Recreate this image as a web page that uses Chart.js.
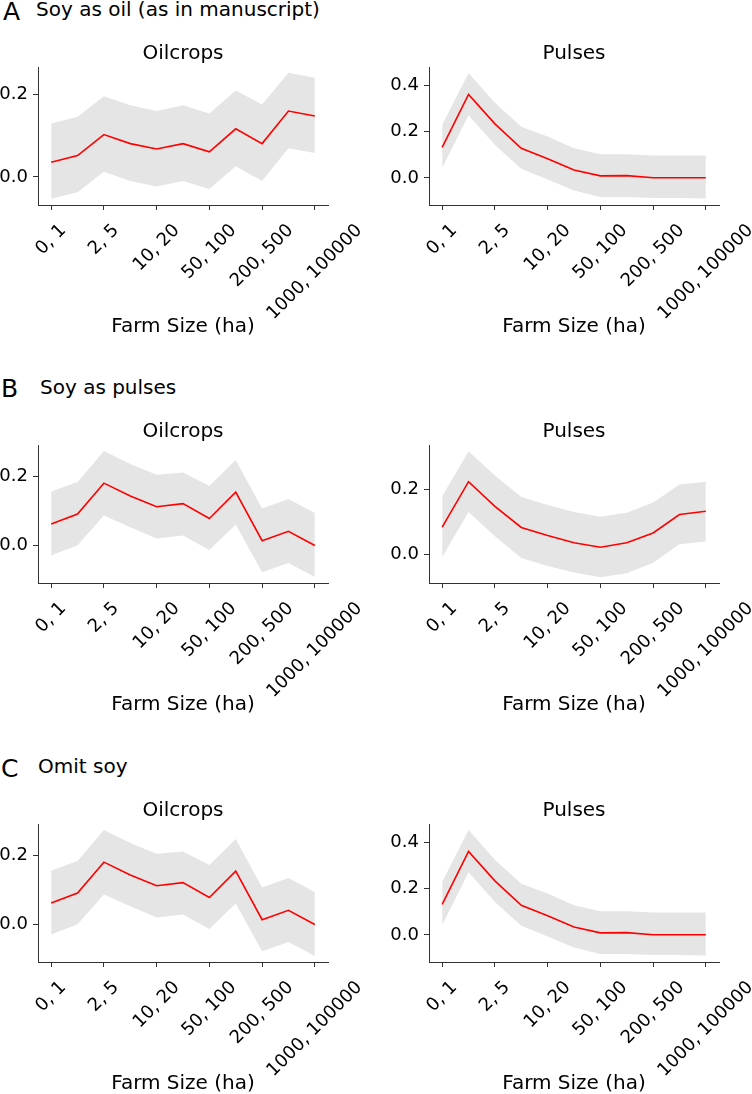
<!DOCTYPE html>
<html><head><meta charset="utf-8">
<script src="https://cdn.jsdelivr.net/npm/chart.js@4/dist/chart.umd.min.js"></script>
<style>
html,body{margin:0;padding:0;background:#fff;width:752px;height:1094px;overflow:hidden;position:relative;font-family:"DejaVu Sans",sans-serif;}
canvas{position:absolute;}
.lbl{position:absolute;font-size:25px;line-height:25px;color:#000;white-space:nowrap}
.hdr{position:absolute;font-size:20px;line-height:20px;color:#000;white-space:nowrap}
</style></head><body>
<div class="lbl" style="left:3px;top:-1px">A</div>
<div class="hdr" style="left:36px;top:-1px">Soy as oil (as in manuscript)</div>
<div class="lbl" style="left:1px;top:376px">B</div>
<div class="hdr" style="left:40px;top:377px">Soy as pulses</div>
<div class="lbl" style="left:1px;top:756px">C</div>
<div class="hdr" style="left:38px;top:756px">Omit soy</div>
<script>
// ---- data ----
const categories = ['0, 1','1, 2','2, 5','5, 10','10, 20','20, 50','50, 100','100, 200','200, 500','500, 1000','1000, 100000'];

const oilA_mean  = [0.036, 0.052, 0.103, 0.081, 0.068, 0.081, 0.061, 0.117, 0.081, 0.160, 0.148];
const oilA_upper = [0.130, 0.146, 0.196, 0.174, 0.160, 0.174, 0.154, 0.210, 0.176, 0.253, 0.241];
const oilA_lower = [-0.053, -0.037, 0.013, -0.010, -0.023, -0.010, -0.029, 0.026, -0.010, 0.070, 0.058];

const pulA_mean  = [0.132, 0.361, 0.234, 0.128, 0.083, 0.034, 0.009, 0.010, 0.001, 0.001, 0.001];
const pulA_upper = [0.229, 0.454, 0.325, 0.222, 0.179, 0.129, 0.103, 0.103, 0.097, 0.097, 0.097];
const pulA_lower = [0.043, 0.271, 0.143, 0.040, -0.007, -0.054, -0.082, -0.082, -0.087, -0.087, -0.089];

const oilB_mean  = [0.062, 0.091, 0.180, 0.143, 0.112, 0.121, 0.078, 0.154, 0.014, 0.041, 0.000];
const oilB_upper = [0.156, 0.183, 0.273, 0.235, 0.204, 0.211, 0.172, 0.247, 0.107, 0.134, 0.094];
const oilB_lower = [-0.029, 0.001, 0.087, 0.053, 0.020, 0.029, -0.013, 0.061, -0.077, -0.050, -0.091];

const pulB_mean  = [0.083, 0.223, 0.147, 0.082, 0.057, 0.035, 0.021, 0.035, 0.065, 0.122, 0.132];
const pulB_upper = [0.178, 0.317, 0.242, 0.176, 0.151, 0.130, 0.115, 0.127, 0.159, 0.214, 0.223];
const pulB_lower = [-0.009, 0.130, 0.055, -0.012, -0.037, -0.057, -0.071, -0.059, -0.027, 0.030, 0.039];

const oilC_mean  = [0.062, 0.091, 0.180, 0.143, 0.112, 0.121, 0.078, 0.154, 0.014, 0.041, 0.000];
const oilC_upper = [0.156, 0.183, 0.273, 0.235, 0.204, 0.211, 0.172, 0.247, 0.107, 0.134, 0.094];
const oilC_lower = [-0.029, 0.001, 0.087, 0.053, 0.020, 0.029, -0.013, 0.061, -0.077, -0.050, -0.091];

const pulC_mean  = [0.132, 0.361, 0.234, 0.128, 0.083, 0.034, 0.009, 0.010, 0.001, 0.001, 0.001];
const pulC_upper = [0.229, 0.454, 0.325, 0.222, 0.179, 0.129, 0.103, 0.103, 0.097, 0.097, 0.097];
const pulC_lower = [0.043, 0.271, 0.143, 0.040, -0.007, -0.054, -0.082, -0.082, -0.087, -0.087, -0.089];

const yTicks_oilA = [0.0, 0.2];
const yTicks_pulA = [0.0, 0.2, 0.4];
const yTicks_oilB = [0.0, 0.2];
const yTicks_pulB = [0.0, 0.2];
const yTicks_oilC = [0.0, 0.2];
const yTicks_pulC = [0.0, 0.2, 0.4];

const yRange_oilA = [-0.068, 0.267];
const yRange_pulA = [-0.117, 0.480];
const yRange_oilB = [-0.108, 0.290];
const yRange_pulB = [-0.089, 0.336];
const yRange_oilC = [-0.108, 0.290];
const yRange_pulC = [-0.117, 0.480];

const subTitles = ['Oilcrops', 'Pulses'];
const xTitle = 'Farm Size (ha)';

// ---- layout ----
const FONT = '"DejaVu Sans", sans-serif';
const AXIS = '#333333';
const BAND = 'rgb(229,229,229)';
const colLeft = [-22, 369];
const rowTop = [42, 420, 799];
const CW = 400, CH = 297;

const panels = [
  {r:0, c:0, title:subTitles[0], mean:oilA_mean, up:oilA_upper, lo:oilA_lower, yt:yTicks_oilA, yr:yRange_oilA},
  {r:0, c:1, title:subTitles[1], mean:pulA_mean, up:pulA_upper, lo:pulA_lower, yt:yTicks_pulA, yr:yRange_pulA},
  {r:1, c:0, title:subTitles[0], mean:oilB_mean, up:oilB_upper, lo:oilB_lower, yt:yTicks_oilB, yr:yRange_oilB},
  {r:1, c:1, title:subTitles[1], mean:pulB_mean, up:pulB_upper, lo:pulB_lower, yt:yTicks_pulB, yr:yRange_pulB},
  {r:2, c:0, title:subTitles[0], mean:oilC_mean, up:oilC_upper, lo:oilC_lower, yt:yTicks_oilC, yr:yRange_oilC},
  {r:2, c:1, title:subTitles[1], mean:pulC_mean, up:pulC_upper, lo:pulC_lower, yt:yTicks_pulC, yr:yRange_pulC},
];

// center rotated x tick labels on their ticks (matplotlib ha='center')
const centerRotatedLabels = {
  id: 'centerRotatedLabels',
  beforeDraw(chart) {
    const sc = chart.scales.x;
    const items = sc.getLabelItems();
    if (items._centered) return;
    const ctx = chart.ctx;
    ctx.save();
    for (const it of items) {
      ctx.font = it.font.string;
      const w = ctx.measureText(String(it.label)).width;
      it.options.translation[0] += w * Math.SQRT1_2 / 2;
    }
    ctx.restore();
    items._centered = true;
  }
};

panels.forEach(p => {
  const cv = document.createElement('canvas');
  cv.width = CW; cv.height = CH;
  cv.style.left = colLeft[p.c] + 'px';
  cv.style.top = rowTop[p.r] + 'px';
  cv.style.width = CW + 'px'; cv.style.height = CH + 'px';
  document.body.appendChild(cv);
  new Chart(cv, {
    type: 'line',
    data: {
      labels: categories,
      datasets: [
        {data: p.mean, borderColor: '#ff0000', borderWidth: 1.6, pointRadius: 0, fill: false, tension: 0},
        {data: p.up, borderWidth: 0, borderColor: 'rgba(0,0,0,0)', backgroundColor: BAND, pointRadius: 0, fill: '+1', tension: 0},
        {data: p.lo, borderWidth: 0, borderColor: 'rgba(0,0,0,0)', backgroundColor: BAND, pointRadius: 0, fill: false, tension: 0}
      ]
    },
    options: {
      responsive: false,
      animation: false,
      devicePixelRatio: 1,
      layout: {padding: {left: 0, right: 50, top: 0, bottom: 0}},
      plugins: {
        legend: {display: false},
        tooltip: {enabled: false},
        title: {display: true, text: p.title, color: '#000', fullSize: false,
                font: {family: FONT, size: 20, weight: 'normal'}, padding: {top: 0, bottom: 1}}
      },
      scales: {
        x: {
          type: 'category',
          offset: true,
          afterFit: s => { s.height = 134; },
          grid: {drawOnChartArea: false, drawTicks: true, tickLength: 5, offset: false,
                 tickColor: ctx => (ctx.index % 2 ? 'rgba(0,0,0,0)' : AXIS), tickWidth: 1},
          border: {display: true, color: AXIS, width: 1},
          ticks: {autoSkip: false, minRotation: 45, maxRotation: 45, padding: 10, color: '#000',
                  font: {family: FONT, size: 18},
                  callback: (v, i) => (i % 2 ? '' : categories[i])},
          title: {display: true, text: xTitle, color: '#000', font: {family: FONT, size: 20}, padding: 0}
        },
        y: {
          type: 'linear',
          min: p.yr[0], max: p.yr[1],
          afterFit: s => { s.width = 60; },
          afterBuildTicks: s => { s.ticks = p.yt.map(v => ({value: v})); },
          grid: {drawOnChartArea: false, drawTicks: true, tickLength: 5, tickColor: AXIS, tickWidth: 1},
          border: {display: true, color: AXIS, width: 1},
          ticks: {padding: 5, color: '#000', font: {family: FONT, size: 18},
                  callback: v => Number(v).toFixed(1)}
        }
      }
    },
    plugins: [centerRotatedLabels]
  });
});
</script>
</body></html>
